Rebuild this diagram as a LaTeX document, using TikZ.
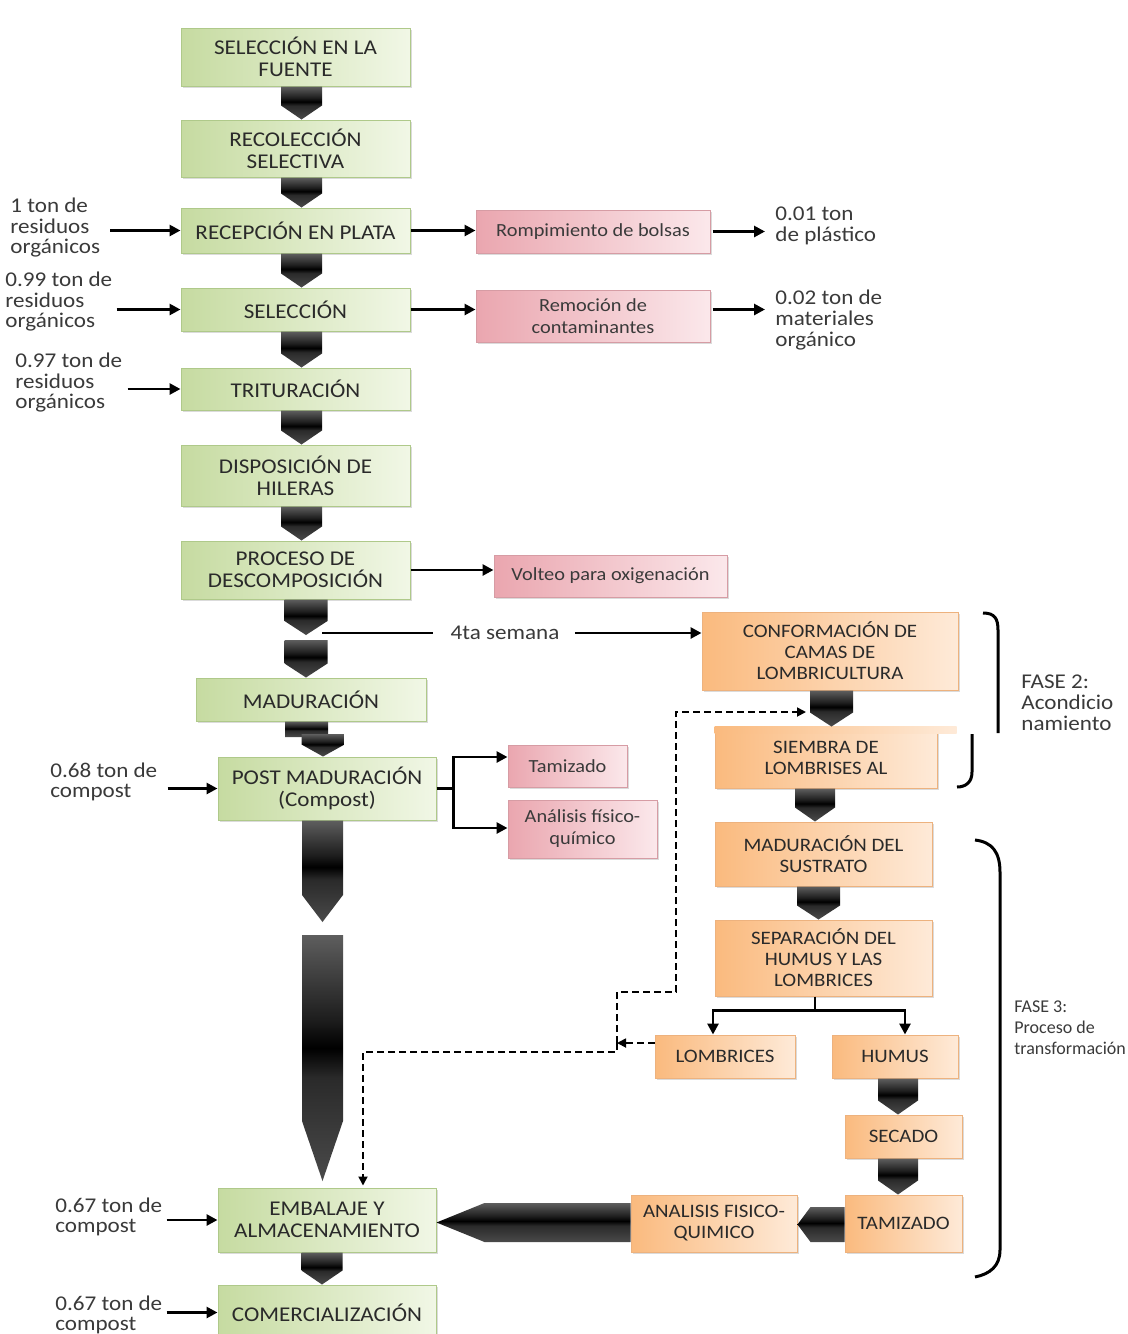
\documentclass[tikz,border=0pt]{standalone}
\usepackage{fontspec}
\setmainfont{Carlito}[FakeStretch=1.1]
\newfontfamily\plainfont{Carlito}
\usetikzlibrary{arrows.meta,calc,shadows}

\definecolor{txt}{HTML}{3A3A3A}
\definecolor{captxt}{HTML}{2A2A2A}
\definecolor{gL}{HTML}{C6DBA1}
\definecolor{gR}{HTML}{F1F7E6}
\definecolor{gB}{HTML}{AFC98A}
\definecolor{pL}{HTML}{EAA6AF}
\definecolor{pR}{HTML}{FBE8EB}
\definecolor{pB}{HTML}{D69CA4}
\definecolor{oL}{HTML}{FABA7E}
\definecolor{oR}{HTML}{FEEAD8}
\definecolor{oB}{HTML}{EDB27E}
\definecolor{chA}{HTML}{4A4A4A}
\definecolor{chB}{HTML}{2A2A2A}
\definecolor{chC}{HTML}{1E1E1E}
\definecolor{chD}{HTML}{5E5E5E}

% glossy dark fill for the block arrows (stops kept inside 25bp--75bp)
\pgfdeclareverticalshading{gloss}{100bp}{color(0bp)=(chA); color(25bp)=(chA);
  color(46bp)=(chB); color(52bp)=(black); color(58bp)=(chC); color(75bp)=(chD); color(100bp)=(chD)}

% downward block arrow: x centre (px), upper end, lower end, half width, tip depth
\newcommand\vchev[5]{%
  \shade[shading=gloss] let \p1=(#2), \p2=(#3) in
    ({#1*0.5pt-#4},\y1) -- ({#1*0.5pt+#4},\y1) -- ({#1*0.5pt+#4},\y2+#5)
    -- ({#1*0.5pt},\y2) -- ({#1*0.5pt-#4},\y2+#5) -- cycle;}
% leftward block arrow: y centre (px), right end, left end, half height, tip depth
\newcommand\hchev[5]{%
  \shade[shading=gloss] let \p1=(#2), \p2=(#3) in
    (\x1,{-#1*0.5pt+#4}) -- (\x1,{-#1*0.5pt-#4}) -- (\x2+#5,{-#1*0.5pt-#4})
    -- (\x2,{-#1*0.5pt}) -- (\x2+#5,{-#1*0.5pt+#4}) -- cycle;}

\begin{document}
\begin{tikzpicture}[x=0.5pt,y=-0.5pt,
  box/.style={rectangle, inner sep=1pt, align=center, text=captxt, line width=0.5pt,
    drop shadow={shadow xshift=0.9pt, shadow yshift=-0.9pt, opacity=0.28}},
  gbox/.style={box, draw=gB, left color=gL, right color=gR,
    font=\fontsize{10.5}{11}\selectfont},
  pbox/.style={box, draw=pB, left color=pL, right color=pR, text=txt,
    font=\fontsize{9.25}{11}\selectfont},
  obox/.style={box, draw=oB, left color=oL, right color=oR,
    font=\fontsize{9.5}{10.5}\selectfont},
  lbl/.style={inner sep=0pt, align=left, text=txt,
    font=\fontsize{10.5}{10.25}\selectfont},
  rlbl/.style={lbl, font=\fontsize{10.5}{10.5}\selectfont},
  ln/.style={line width=1.4pt, black},
  arr/.style={ln, -{Triangle[length=5.5pt,width=5.5pt]}},
  dsh/.style={line width=0.9pt, dash pattern=on 3.5pt off 2pt,
    -{Triangle[length=4.5pt,width=4.5pt]}},
  brk/.style={line width=1.5pt, black}]

\useasboundingbox (0,0) rectangle (1128,1334);
\clip (0,0) rectangle (1128,1334);
\fill[white] (0,0) rectangle (1128,1334);

% ---------- main composting column ----------
\node[gbox, minimum width=114.5pt, minimum height=29pt]   (g1)  at (295.5,57)    {SELECCIÓN EN LA\\FUENTE};
\node[gbox, minimum width=114.5pt, minimum height=28.5pt] (g2)  at (295.5,148.5) {RECOLECCIÓN\\SELECTIVA};
\node[gbox, minimum width=114.5pt, minimum height=22.5pt] (g3)  at (295.5,230.5) {RECEPCIÓN EN PLATA};
\node[gbox, minimum width=114.5pt, minimum height=21.5pt] (g4)  at (295.5,309.5) {SELECCIÓN};
\node[gbox, minimum width=114.5pt, minimum height=21pt]   (g5)  at (295.5,389)   {TRITURACIÓN};
\node[gbox, minimum width=114.5pt, minimum height=30.5pt] (g6)  at (295.5,475.5) {DISPOSICIÓN DE\\HILERAS};
\node[gbox, minimum width=114.5pt, minimum height=29pt]   (g7)  at (295.5,570)   {PROCESO DE\\DESCOMPOSICIÓN};
\node[gbox, minimum width=115pt,   minimum height=21.5pt] (g8)  at (311,699.5)   {MADURACIÓN};
\node[gbox, minimum width=109pt,   minimum height=31.5pt] (g9)  at (327,788.5)   {POST MADURACIÓN\\(Compost)};
\node[gbox, minimum width=109pt,   minimum height=32pt]   (g10) at (327,1220)    {EMBALAJE Y\\ALMACENAMIENTO};
\node[gbox, minimum width=109pt,   minimum height=27.5pt] (g11) at (327,1312.5)  {COMERCIALIZACIÓN};

% ---------- side operations ----------
\node[pbox, minimum width=117pt,   minimum height=21.5pt] (p1) at (593,231.5) {Rompimiento de bolsas};
\node[pbox, minimum width=117pt,   minimum height=26pt]   (p2) at (593,316)   {Remoción de\\contaminantes};
\node[pbox, minimum width=116.5pt, minimum height=21pt]   (p3) at (610.5,576) {Volteo para oxigenación};
\node[pbox, minimum width=59.5pt,  minimum height=21pt]   (p4) at (567.5,766) {Tamizado};
\node[pbox, minimum width=74.5pt,  minimum height=29pt]   (p5) at (582.5,829) {Análisis físico-\\químico};

% ---------- vermiculture column ----------
\node[obox, minimum width=128pt,   minimum height=39pt]   (o1) at (830,651)    {CONFORMACIÓN DE\\CAMAS DE\\LOMBRICULTURA};
\node[obox, minimum width=111pt,   minimum height=30.5pt] (o2) at (826,757.5)  {SIEMBRA DE\\LOMBRISES AL};
\shade[left color=oL, right color=oR] (o2.north west) rectangle ++(121pt,-3.5pt);
\node[obox, minimum width=108.5pt, minimum height=32pt]   (o3) at (823.5,854)  {MADURACIÓN DEL\\SUSTRATO};
\node[obox, minimum width=108.5pt, minimum height=38pt]   (o4) at (823.5,958)  {SEPARACIÓN DEL\\HUMUS Y LAS\\LOMBRICES};
\node[obox, minimum width=70pt,    minimum height=21.5pt] (o5) at (725,1056.5) {LOMBRICES};
\node[obox, minimum width=63pt,    minimum height=21.5pt] (o6) at (895,1056.5) {HUMUS};
\node[obox, minimum width=58.5pt,  minimum height=21.5pt] (o7) at (903.5,1136.5) {SECADO};
\node[obox, minimum width=58.5pt,  minimum height=28.5pt] (o8) at (903.5,1223.5) {TAMIZADO};
\node[obox, minimum width=83pt,    minimum height=28.5pt] (o9) at (714,1223.5)  {ANALISIS FISICO-\\QUIMICO};

% ---------- quantities ----------
\node[lbl, anchor=west] (t1) at (10,228)  {1 ton de\\residuos\\orgánicos};
\node[lbl, anchor=west] (t2) at (5,302)   {0.99 ton de\\residuos\\orgánicos};
\node[lbl, anchor=west] (t3) at (15,383)  {0.97 ton de\\residuos\\orgánicos};
\node[lbl, anchor=west] (t4) at (50,782)  {0.68 ton de\\compost};
\node[lbl, anchor=west] (t5) at (55,1217) {0.67 ton de\\compost};
\node[lbl, anchor=west] (t6) at (55,1315) {0.67 ton de\\compost};
\node[rlbl, anchor=west] (r1) at (775,226) {0.01 ton\\de plástico};
\node[rlbl, anchor=west] (r2) at (775,320) {0.02 ton de\\materiales\\orgánico};
\node[rlbl] (sem) at (505,633) {4ta semana};
\node[rlbl, anchor=west] (f2) at (1021,703)  {FASE 2:\\Acondicio\\namiento};
\node[rlbl, anchor=west, font=\plainfont\fontsize{9}{10.5}\selectfont] (f3) at (1014,1028) {FASE 3:\\Proceso de\\transformación};

% ---------- block arrows ----------
\vchev{301.5}{g1.south}{g2.north}{10.25pt}{7pt}
\vchev{301.5}{g2.south}{g3.north}{10.25pt}{7pt}
\vchev{301.5}{g3.south}{g4.north}{10.25pt}{7pt}
\vchev{301.5}{g4.south}{g5.north}{10.25pt}{7pt}
\vchev{301.5}{g5.south}{g6.north}{10.25pt}{7pt}
\vchev{301.5}{g6.south}{g7.north}{10.25pt}{7pt}
\coordinate (k7) at (306,635);
\coordinate (k8) at (306,640);
\vchev{306}{g7.south}{k7}{10.75pt}{7pt}
\vchev{306}{k8}{g8.north}{10.75pt}{7pt}
\coordinate (k9a) at (306.5,737);
\coordinate (k9b) at (323,734);
\vchev{306.5}{g8.south}{k9a}{10.75pt}{0pt}
\vchev{323}{k9b}{g9.north}{10.75pt}{6pt}
\coordinate (k10) at (322.5,922);
\vchev{322.5}{g9.south}{k10}{10.25pt}{13.5pt}
\coordinate (k11a) at (322.5,935);
\coordinate (k11b) at (322.5,1181);
\vchev{322.5}{k11a}{k11b}{10.25pt}{30pt}
\vchev{322}{g10.south}{g11.north}{10.25pt}{7pt}

\vchev{831.5}{o1.south}{o2.north}{10.75pt}{7pt}
\vchev{815}{o2.south}{o3.north}{10pt}{7pt}
\vchev{818.5}{o3.south}{o4.north}{10.75pt}{7pt}
\vchev{898}{o6.south}{o7.north}{10pt}{7pt}
\vchev{898}{o7.south}{o8.north}{10pt}{7pt}
\hchev{1224.5}{o8.west}{o9.east}{8.75pt}{6.5pt}
\hchev{1222.5}{o9.west}{g10.east}{9.75pt}{24pt}

% ---------- inputs ----------
\draw[arr] ($(t1.east |- g3.west)+(5pt,0)$) -- (g3.west);
\draw[arr] ($(t2.east |- g4.west)+(2pt,0)$) -- (g4.west);
\draw[arr] ($(t3.east |- g5.west)+(2.5pt,0)$) -- (g5.west);
\draw[arr] ($(t4.east |- g9.west)+(5pt,0)$) -- (g9.west);
\draw[arr] ($(t5.east |- g10.west)+(2pt,0)$) -- (g10.west);
\draw[arr] ($(t6.east |- g11.west)+(2pt,0)$) -- (g11.west);

% ---------- outputs ----------
\draw[arr] (g3.east) -- (g3.east -| p1.west);
\draw[arr] ($(p1.east)+(1pt,0)$) -- ($(p1.east -| r1.west)+(-5pt,0)$);
\draw[arr] (g4.east) -- (g4.east -| p2.west);
\draw[arr] ($(p2.east |- g4.east)+(1pt,0)$) -- ($(g4.east -| r2.west)+(-5pt,0)$);
\draw[arr] (g7.east) -- (g7.east -| p3.west);

\draw[ln] (g9.east) -- ++(17,0) coordinate (b9);
\draw[arr] (b9) |- ($(p4.west)+(0,4.5pt)$);
\draw[arr] (b9) |- ($(p5.west)+(0,0.5pt)$);

% week four: to the worm beds
\draw[ln] ($(sem.west -| k7)+(8pt,0)$) -- ($(sem.west)+(-8.5pt,0)$);
\draw[arr] ($(sem.east)+(7.5pt,0)$) -- (sem.east -| o1.west);

% split of worms and humus
\draw[ln] ($(o4.south)+(-4.25pt,0)$) -- ++(0,14) coordinate (b4);
\draw[arr] (b4) -| ($(o5.north)+(-6pt,0)$);
\draw[arr] (b4) -| ($(o6.north)+(5pt,0)$);

% worms returned to the beds and sent to packing
\coordinate (j) at (617,1043);
\coordinate (sw) at (806,712);
\draw[dsh] ($(o5.west)+(0,6.75pt)$) -- (j);
\draw[dsh] (j) -- ++(0,-51) -- ++(59,0) |- (sw);
\draw[dsh] (j) -- ++(0,9) -| ($(g10.north)+(18pt,1pt)$);

% ---------- phase brackets ----------
\draw[brk] (983,613) .. controls (995,613) and (998,619) .. (998,630) -- (998,733);
\draw[brk] (972,734) -- (972,772) .. controls (972,782) and (966,787) .. (957,787);
\draw[brk] (975,840) .. controls (992,842) and (1000,852) .. (1000,872) -- (1000,1250)
  .. controls (1000,1266) and (990,1274) .. (975,1277);
\end{tikzpicture}
\end{document}
